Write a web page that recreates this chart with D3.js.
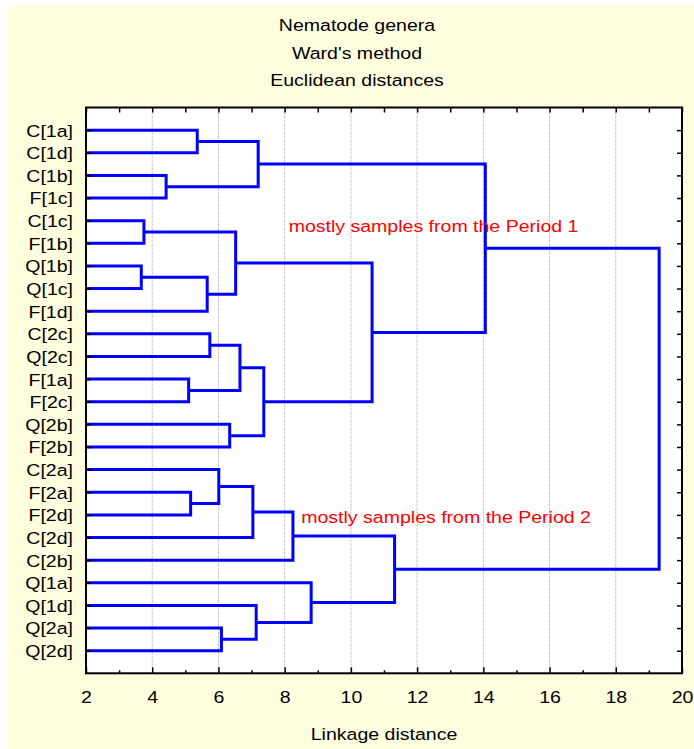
<!DOCTYPE html>
<html>
<head>
<meta charset="utf-8">
<script src="https://cdn.jsdelivr.net/npm/d3@7"></script>
<style>
  body { margin: 0; background: #fff; }
  svg text { font-family: "Liberation Sans", Arial, sans-serif; }
</style>
</head>
<body>
<svg id="chart" width="694" height="749"></svg>
<script>
// leaves in the order they are drawn, top to bottom
const leafLabels = ['C[1a]', 'C[1d]', 'C[1b]', 'F[1c]', 'C[1c]', 'F[1b]', 'Q[1b]', 'Q[1c]',
    'F[1d]', 'C[2c]', 'Q[2c]', 'F[1a]', 'F[2c]', 'Q[2b]', 'F[2b]', 'C[2a]', 'F[2a]', 'F[2d]',
    'C[2d]', 'C[2b]', 'Q[1a]', 'Q[1d]', 'Q[2a]', 'Q[2d]'];

// linkage steps: [node a, node b, distance]; nodes 0..23 are leaves, merge k becomes node 24+k
const merges = [
    [0, 1, 5.36],
    [2, 3, 4.42],
    [24, 25, 7.20],
    [4, 5, 3.75],
    [6, 7, 3.67],
    [28, 8, 5.66],
    [27, 29, 6.52],
    [9, 10, 5.74],
    [11, 12, 5.10],
    [31, 32, 6.65],
    [13, 14, 6.34],
    [33, 34, 7.37],
    [30, 35, 10.64],
    [26, 36, 14.06],
    [16, 17, 5.16],
    [15, 38, 6.01],
    [39, 18, 7.04],
    [40, 19, 8.25],
    [22, 23, 6.09],
    [21, 42, 7.14],
    [20, 43, 8.80],
    [41, 44, 11.32],
    [37, 45, 19.31]
];

const majorTicks = [2, 4, 6, 8, 10, 12, 14, 16, 18, 20];
const minorTicks = [3, 5, 7, 9, 11, 13, 15, 17, 19];
const titleLines = ['Nematode genera', "Ward's method", 'Euclidean distances'];
const xTitle = 'Linkage distance';
const annotationTexts = ['mostly samples from the Period 1', 'mostly samples from the Period 2'];

const svg = d3.select('#chart');
const plotLeft = 86, plotRight = 682, plotTop = 107.5, plotBottom = 673.3;
const fontSize = 17, stretchX = 1.15;

// the original text is a bit wider than Arial, so widen glyphs around their anchor
function stretch(sel) {
    sel.each(function() {
        let t = d3.select(this);
        let tx = +t.attr('x') || 0, ty = +t.attr('y') || 0;
        t.attr('x', 0).attr('y', 0)
         .attr('transform', 'translate(' + tx + ',' + ty + ') scale(' + stretchX + ',1)');
    });
}

svg.append('rect')
    .attr('x', 7).attr('y', 5)
    .attr('width', 694 - 7).attr('height', 749 - 5)
    .attr('fill', '#ffffe0');

svg.append('rect')
    .attr('x', plotLeft).attr('y', plotTop)
    .attr('width', plotRight - plotLeft).attr('height', plotBottom - plotTop)
    .attr('fill', '#fff');

const x = d3.scaleLinear().domain([2, 20]).range([plotLeft, plotRight]);
const y = d3.scalePoint().domain(leafLabels).range([plotTop, plotBottom]).padding(1);

// grid
svg.append('g')
    .selectAll('line')
    .data(majorTicks.slice(1, -1))
    .enter().append('line')
    .attr('x1', d => x(d)).attr('x2', d => x(d))
    .attr('y1', plotTop).attr('y2', plotBottom)
    .attr('stroke', '#c4c4c4')
    .attr('stroke-width', 1)
    .attr('stroke-dasharray', '3,1');

// dendrogram
const nodes = leafLabels.map(l => ({ y: y(l), h: 2 }));
merges.forEach(m => {
    let a = nodes[m[0]], b = nodes[m[1]];
    nodes.push({ y: (a.y + b.y) / 2, h: m[2] });
});

svg.append('g')
    .selectAll('path')
    .data(merges)
    .enter().append('path')
    .attr('d', m => {
        let a = nodes[m[0]], b = nodes[m[1]];
        return 'M' + x(a.h) + ',' + a.y + 'H' + x(m[2]) + 'V' + b.y + 'H' + x(b.h);
    })
    .attr('fill', 'none')
    .attr('stroke', '#0000ff')
    .attr('stroke-width', 3);

// axes
function styleAxis(g) {
    g.select('.domain').remove();
    g.selectAll('line').attr('stroke', '#000').attr('stroke-width', 1.5);
    g.selectAll('text').attr('fill', '#000').attr('font-size', fontSize)
        .attr('font-family', '"Liberation Sans", Arial, sans-serif');
}

svg.append('g')
    .attr('transform', 'translate(0,' + plotBottom + ')')
    .call(d3.axisBottom(x).tickValues(majorTicks).tickSize(-6).tickPadding(17.5).tickFormat(d3.format('d')))
    .call(styleAxis)
    .selectAll('text').call(stretch);

svg.append('g')
    .attr('transform', 'translate(0,' + plotBottom + ')')
    .call(d3.axisBottom(x).tickValues(minorTicks).tickSize(-3).tickFormat(''))
    .call(styleAxis);

svg.append('g')
    .attr('transform', 'translate(0,' + plotTop + ')')
    .call(d3.axisTop(x).tickValues(majorTicks.concat(minorTicks)).tickSize(-5).tickFormat(''))
    .call(styleAxis);

svg.append('g')
    .attr('transform', 'translate(' + plotLeft + ',0)')
    .call(d3.axisLeft(y).tickSize(-5).tickPadding(13))
    .call(styleAxis)
    .selectAll('text').attr('dy', '0.35em').call(stretch);

svg.append('g')
    .attr('transform', 'translate(' + plotRight + ',0)')
    .call(d3.axisRight(y).tickSize(-5).tickFormat(''))
    .call(styleAxis);

// frame
svg.append('rect')
    .attr('x', plotLeft).attr('y', plotTop)
    .attr('width', plotRight - plotLeft).attr('height', plotBottom - plotTop)
    .attr('fill', 'none')
    .attr('stroke', '#000')
    .attr('stroke-width', 2);

// annotations
svg.append('text')
    .attr('x', x(8.12)).attr('y', y('C[1c]') + 11.5)
    .attr('font-size', fontSize).attr('fill', '#ff0000')
    .text(annotationTexts[0])
    .call(stretch);

svg.append('text')
    .attr('x', x(8.5)).attr('y', y('F[2d]') + 8.5)
    .attr('font-size', fontSize).attr('fill', '#ff0000')
    .text(annotationTexts[1])
    .call(stretch);

// titles
svg.append('g')
    .selectAll('text')
    .data(titleLines)
    .enter().append('text')
    .attr('x', 357)
    .attr('y', (d, i) => 31 + i * 27.7)
    .attr('text-anchor', 'middle')
    .attr('font-size', fontSize)
    .attr('fill', '#000')
    .text(d => d)
    .call(stretch);

svg.append('text')
    .attr('x', (plotLeft + plotRight) / 2)
    .attr('y', 740)
    .attr('text-anchor', 'middle')
    .attr('font-size', fontSize)
    .attr('fill', '#000')
    .text(xTitle)
    .call(stretch);
</script>
</body>
</html>
